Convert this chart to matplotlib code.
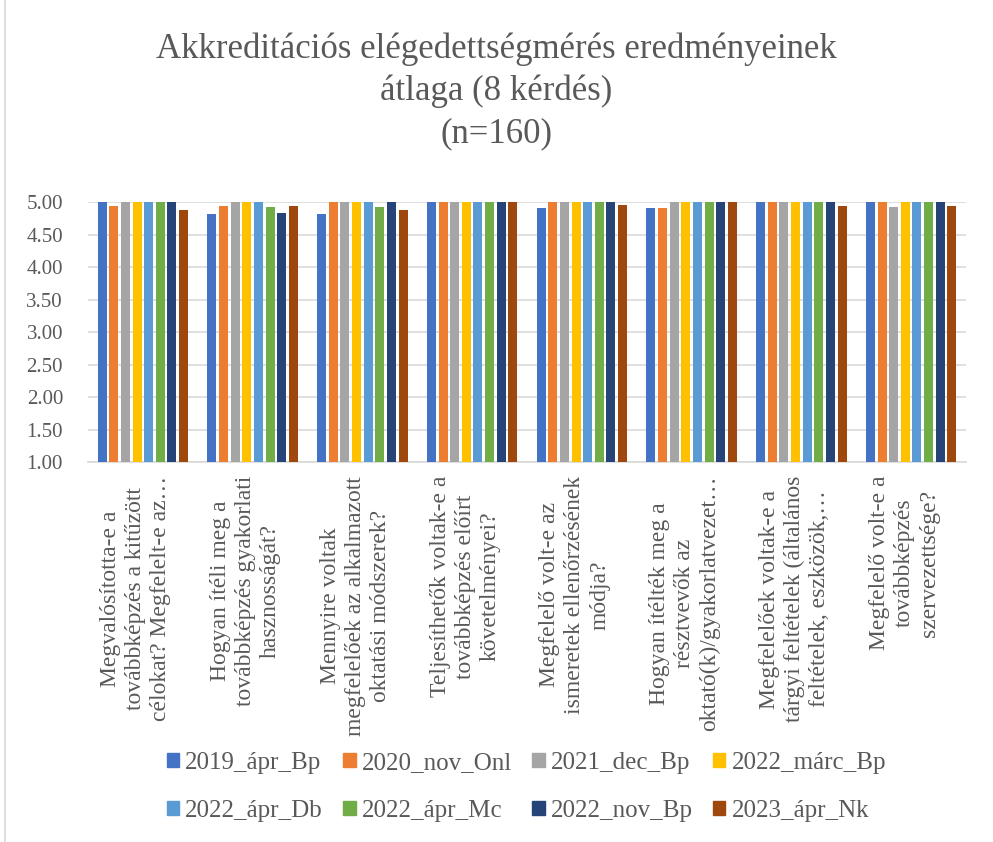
import matplotlib
matplotlib.use("Agg")
import matplotlib.pyplot as plt
import matplotlib.transforms as mtransforms
import numpy as np
from matplotlib.lines import Line2D

plt.rcParams['font.family'] = ['Liberation Serif', 'DejaVu Serif']

categories = [
    "Megvalósította-e a\ntovábbképzés a kitűzött\ncélokat? Megfelelt-e az…",
    "Hogyan ítéli meg a\ntovábbképzés gyakorlati\nhasznosságát?",
    "Mennyire voltak\nmegfelelőek az alkalmazott\noktatási módszerek?",
    "Teljesíthetők voltak-e a\ntovábbképzés előírt\nkövetelményei?",
    "Megfelelő volt-e az\nismeretek ellenőrzésének\nmódja?",
    "Hogyan ítélték meg a\nrésztvevők az\noktató(k)/gyakorlatvezet…",
    "Megfelelőek voltak-e a\ntárgyi feltételek (általános\nfeltételek, eszközök,…",
    "Megfelelő volt-e a\ntovábbképzés\nszervezettsége?",
]

series_names = ["2019_ápr_Bp", "2020_nov_Onl", "2021_dec_Bp", "2022_márc_Bp",
                "2022_ápr_Db", "2022_ápr_Mc", "2022_nov_Bp", "2023_ápr_Nk"]

s2019_apr_Bp  = [5.00, 4.82, 4.82, 5.00, 4.91, 4.91, 5.00, 5.00]
s2020_nov_Onl = [4.94, 4.94, 5.00, 5.00, 5.00, 4.91, 5.00, 5.00]
s2021_dec_Bp  = [5.00, 5.00, 5.00, 5.00, 5.00, 5.00, 5.00, 4.93]
s2022_marc_Bp = [5.00, 5.00, 5.00, 5.00, 5.00, 5.00, 5.00, 5.00]
s2022_apr_Db  = [5.00, 5.00, 5.00, 5.00, 5.00, 5.00, 5.00, 5.00]
s2022_apr_Mc  = [5.00, 4.92, 4.92, 5.00, 5.00, 5.00, 5.00, 5.00]
s2022_nov_Bp  = [5.00, 4.83, 5.00, 5.00, 5.00, 5.00, 5.00, 5.00]
s2023_apr_Nk  = [4.88, 4.94, 4.88, 5.00, 4.96, 5.00, 4.94, 4.94]

series_values = [s2019_apr_Bp, s2020_nov_Onl, s2021_dec_Bp, s2022_marc_Bp,
                 s2022_apr_Db, s2022_apr_Mc, s2022_nov_Bp, s2023_apr_Nk]

colors = ["#4472C4", "#ED7D31", "#A5A5A5", "#FFC000",
          "#5B9BD5", "#70AD47", "#264478", "#9E480E"]

yticks = [1.00, 1.50, 2.00, 2.50, 3.00, 3.50, 4.00, 4.50, 5.00]

title = "Akkreditációs elégedettségmérés eredményeinek\nátlaga (8 kérdés)\n(n=160)"

W, H = 993, 842
fig = plt.figure(figsize=(W / 100, H / 100), dpi=100)
txt = "#595959"

ax = fig.add_axes([88 / W, 1 - 462 / H, (966 - 88) / W, (462 - 202) / H])

x = np.arange(len(categories))
pitch = 0.106
bw = 0.082
n = len(series_values)
for i, (vals, c, name) in enumerate(zip(series_values, colors, series_names)):
    off = (i - (n - 1) / 2) * pitch
    ax.bar(x + off, np.array(vals) - 1.0, bottom=1.0, width=bw, color=c, label=name, zorder=3)

ax.set_xlim(-0.5, len(categories) - 0.5)
ax.set_ylim(1.0, 5.0)
ax.set_yticks(yticks)
ax.set_yticklabels([f"{v:.2f}" for v in yticks], fontsize=15, color=txt)
ax.yaxis.grid(True, color="#D9D9D9", linewidth=1.2, zorder=0)
ax.set_axisbelow(True)
ax.tick_params(axis='y', length=0, pad=18)
ax.tick_params(axis='x', length=0, pad=10)
ax.set_xticks(x)
ax.set_xticklabels(categories, rotation=90, fontsize=17, color=txt,
                   ha='center', va='top', multialignment='center', linespacing=1.25)
shift = mtransforms.ScaledTranslation(-7 / 100, 0, fig.dpi_scale_trans)
for lbl in ax.get_xticklabels():
    lbl.set_transform(lbl.get_transform() + shift)
for s in ["top", "right", "left"]:
    ax.spines[s].set_visible(False)
ax.spines["bottom"].set_color("#D9D9D9")
ax.spines["bottom"].set_linewidth(1.2)

fig.text(0.5, 1 - 32 / H, title, ha='center', va='top', fontsize=25, color=txt,
         linespacing=1.36)

order = [0, 4, 1, 5, 2, 6, 3, 7]
handles = [plt.Rectangle((0, 0), 1, 1, color=colors[k]) for k in order]
labels = [series_names[k] for k in order]
fig.legend(handles, labels, ncol=4, loc='center',
           bbox_to_anchor=(0.53, 1 - 787 / H), frameon=False, fontsize=18,
           labelcolor=txt, handlelength=0.5, handleheight=0.5, handletextpad=0.25,
           columnspacing=0.8, labelspacing=1.05)

fig.add_artist(Line2D([5 / W, 5 / W], [0, 1], color="#D9D9D9", linewidth=1.2))

fig.savefig("out.png", dpi=100, facecolor="white")
